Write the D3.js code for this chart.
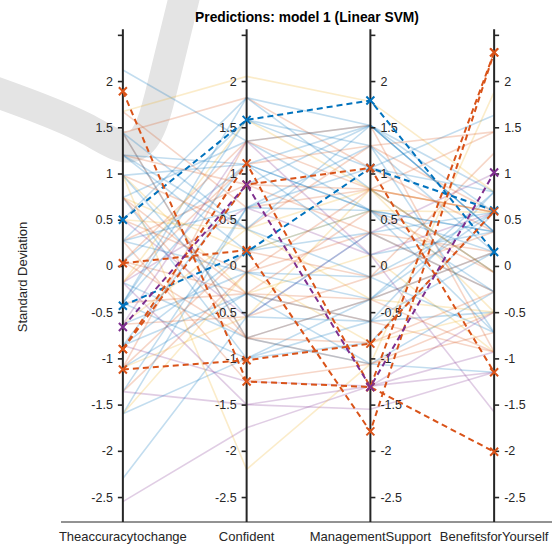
<!DOCTYPE html>
<html>
<head>
<meta charset="utf-8">
<script src="https://cdn.jsdelivr.net/npm/d3@7"></script>
<style>
  body { margin: 0; background: #fff; }
  text { font-family: "Liberation Sans", Arial, Helvetica, sans-serif; }
</style>
</head>
<body>
<div id="chart"></div>
<script>
// feature names (x categories)
const dims = ["Theaccuracytochange", "Confident", "ManagementSupport", "BenefitsforYourself"];
const tickVals = [-2.5, -2, -1.5, -1, -0.5, 0, 0.5, 1, 1.5, 2, 2.5];
const classColors = ["#0072BD", "#D95319", "#EDB120", "#7E2F8E"];

// correctly predicted observations (faint lines), standardized values
const accuracy   = [2.12, 1.67, 1.44, 1.44, 1.44, 1.2, 1.2, 0.98, 0.98, 0.74, 0.74, 0.5, 0.5, 0.27, 0.27, 0.05, 0.05, -0.18, -0.18, -0.4, -0.4, -0.63, -0.63, -0.86, -0.86, -1.1, -1.1, -1.36, -1.36, -1.6, -1.6, -2.3, -2.55, 1.67, 0.98, -0.4, 0.27, 1.2, -0.18, 0.5, -0.63, 0.74, -0.86, 0.05, -1.1, 1.44, -0.4, 0.27, -1.36, 0.98, -0.18, -1.6, 0.05, -0.63, 0.74, -0.86, 1.2, 0.5, -0.18, 0.27, -1.1, 0.98, -0.4, 0.74];
const confident  = [1.35, 0.63, 1.82, -0.78, -0.78, 1.1, 0.16, -0.3, 0.4, 1.35, -1.0, 1.82, -0.55, 0.88, -0.07, 1.1, -0.3, -0.78, 0.63, 1.58, -1.0, 0.4, -0.55, 0.16, -1.25, 1.35, -0.3, -1.5, -0.07, 0.63, -1.0, -0.55, -1.75, 2.05, -2.2, 1.82, -1.25, 0.88, 1.1, 0.4, 1.35, 0.16, 0.88, -0.78, -0.55, 0.4, -0.3, 1.58, 0.63, 1.1, -1.5, -0.07, 1.35, -0.07, -0.3, -0.3, 0.4, -0.07, 1.58, 0.63, 0.16, -0.55, 1.1, -0.78];
const management = [1.52, 0.83, 1.06, -0.36, -1.06, 1.52, 0.36, 0.12, 1.3, 0.6, -0.6, 1.52, 0.36, 0.83, -0.12, 0.6, -0.36, -1.06, 0.12, 1.3, -0.83, 0.83, -0.12, 0.6, -1.3, 1.52, -0.6, -1.55, 0.36, 1.06, -0.36, -0.6, -1.3, 1.78, -1.06, 0.83, -1.06, 0.36, 1.3, -0.36, 0.12, 0.6, 1.52, -0.83, 0.83, -0.12, -0.6, 1.06, 0.6, 0.12, -1.3, -0.83, 0.83, -0.36, 0.6, -1.06, 1.52, 0.83, 0.83, 1.3, -0.12, 0.36, 0.6, -0.36];
const benefits   = [0.58, 1.45, 0.37, 0.15, -0.5, 0.8, -0.28, -0.93, 0.58, 0.37, -0.5, 0.37, 1.0, -0.07, 0.58, -0.72, -0.93, -0.28, 0.58, 0.15, 0.58, -0.5, 1.22, 0.37, -1.15, -0.93, 0.8, -1.15, -0.28, 1.63, 0.58, 0.15, -0.93, 0.8, 1.88, -0.07, -0.72, 0.15, 1.45, -0.5, -1.58, 0.58, 0.37, -0.28, 0.58, -0.72, -0.93, 0.8, 0.15, 0.37, -0.5, -0.5, 0.58, 0.8, -0.07, -1.15, 0.37, 0.58, -0.07, -0.72, 0.37, 0.58, -0.28, 0.15];
const group      = [0, 1, 1, 0, 1, 0, 0, 2, 1, 0, 0, 0, 3, 1, 0, 0, 1, 0, 3, 0, 0, 2, 1, 0, 3, 1, 0, 3, 1, 0, 0, 0, 3, 2, 2, 0, 1, 1, 1, 2, 3, 2, 0, 1, 2, 0, 1, 0, 0, 0, 3, 2, 1, 0, 1, 0, 0, 1, 2, 0, 1, 0, 0, 1];

// mispredicted observations (dashed lines with markers)
const missAccuracy   = [0.5, -0.43, 1.89, 0.03, -1.12, -0.9, -0.9, -0.66];
const missConfident  = [1.58, 0.15, -1.25, 0.17, -1.02, 0.88, 1.11, 0.88];
const missManagement = [1.79, 1.06, -1.31, -1.79, -0.84, 1.06, -1.31, -1.31];
const missBenefits   = [0.15, 0.6, -2.01, 2.31, 0.59, -1.15, 2.31, 1.01];
const missGroup      = [0, 0, 1, 1, 1, 1, 1, 3];

const width = 552, height = 544;

let svg = d3.select("#chart")
  .append("svg")
  .attr("width", width)
  .attr("height", height);

var x = d3.scalePoint()
  .domain(dims)
  .range([61, 556])
  .padding(0.5);

var y = d3.scaleLinear()
  .domain([-2.77, 2.56])
  .range([522, 29.3]);

var rows = accuracy.map((v, i) => ({
  values: [v, confident[i], management[i], benefits[i]],
  g: group[i]
}));
var missRows = missAccuracy.map((v, i) => ({
  values: [v, missConfident[i], missManagement[i], missBenefits[i]],
  g: missGroup[i]
}));

var line = d3.line()
  .x((d, i) => x(dims[i]))
  .y(d => y(d));

// grey swoosh in the top left corner
svg.append("path")
  .attr("d", d3.line().curve(d3.curveBasis)([[-10, 90], [40, 108], [88, 128], [118, 148], [140, 148], [154, 122], [164, 80], [175, 35], [186, -10]]))
  .attr("fill", "none")
  .attr("stroke", "#e4e4e4")
  .attr("stroke-width", 31);

// x axis baseline
svg.append("line")
  .attr("x1", 61).attr("x2", width)
  .attr("y1", 522).attr("y2", 522)
  .attr("stroke", "#262626")
  .attr("stroke-width", 1);

// faint lines
svg.append("g")
  .selectAll("path")
  .data(rows)
  .enter().append("path")
  .attr("d", d => line(d.values))
  .attr("fill", "none")
  .attr("stroke", d => classColors[d.g])
  .attr("stroke-opacity", 0.24)
  .attr("stroke-width", 1.6);

// vertical axes
dims.forEach(function(d, i) {
  let g = svg.append("g")
    .attr("transform", "translate(" + x(d) + ",0)");
  let ax = (i < 2 ? d3.axisLeft(y) : d3.axisRight(y))
    .tickValues(tickVals)
    .tickSize(5)
    .tickPadding(5)
    .tickFormat(v => v === 2.5 ? "" : String(v));
  g.call(ax);
  g.select(".domain").remove();
  g.selectAll(".tick line").attr("stroke", "#262626").attr("stroke-width", 1.6);
  g.selectAll(".tick text")
    .attr("fill", "#262626")
    .attr("font-size", "12.5px")
    .style("font-family", "'Liberation Sans', Arial, sans-serif");
  g.append("line")
    .attr("y1", y(2.56)).attr("y2", 522)
    .attr("stroke", "#262626")
    .attr("stroke-width", 2);

  svg.append("text")
    .attr("x", x(d))
    .attr("y", 541)
    .attr("text-anchor", "middle")
    .attr("font-size", "13px")
    .attr("fill", "#262626")
    .text(d);
});

// dashed lines for mispredictions
svg.append("g")
  .selectAll("path")
  .data(missRows)
  .enter().append("path")
  .attr("d", d => line(d.values))
  .attr("fill", "none")
  .attr("stroke", d => classColors[d.g])
  .attr("stroke-width", 2)
  .attr("stroke-dasharray", "6,4");

// x markers
var markers = [];
missRows.forEach(r => r.values.forEach((v, i) => markers.push({ x: x(dims[i]), y: y(v), g: r.g })));
svg.append("g")
  .selectAll("path")
  .data(markers)
  .enter().append("path")
  .attr("d", d => "M" + (d.x - 4) + "," + (d.y - 4) + "L" + (d.x + 4) + "," + (d.y + 4) +
                  "M" + (d.x - 4) + "," + (d.y + 4) + "L" + (d.x + 4) + "," + (d.y - 4))
  .attr("stroke", d => classColors[d.g])
  .attr("stroke-width", 2);

// title
svg.append("text")
  .attr("x", 307)
  .attr("y", 22)
  .attr("text-anchor", "middle")
  .attr("font-size", "13.8px")
  .attr("font-weight", "bold")
  .attr("fill", "#000")
  .text("Predictions: model 1 (Linear SVM)");

// y label
svg.append("text")
  .attr("transform", "translate(27,277) rotate(-90)")
  .attr("text-anchor", "middle")
  .attr("font-size", "13px")
  .attr("fill", "#262626")
  .text("Standard Deviation");
</script>
</body>
</html>
